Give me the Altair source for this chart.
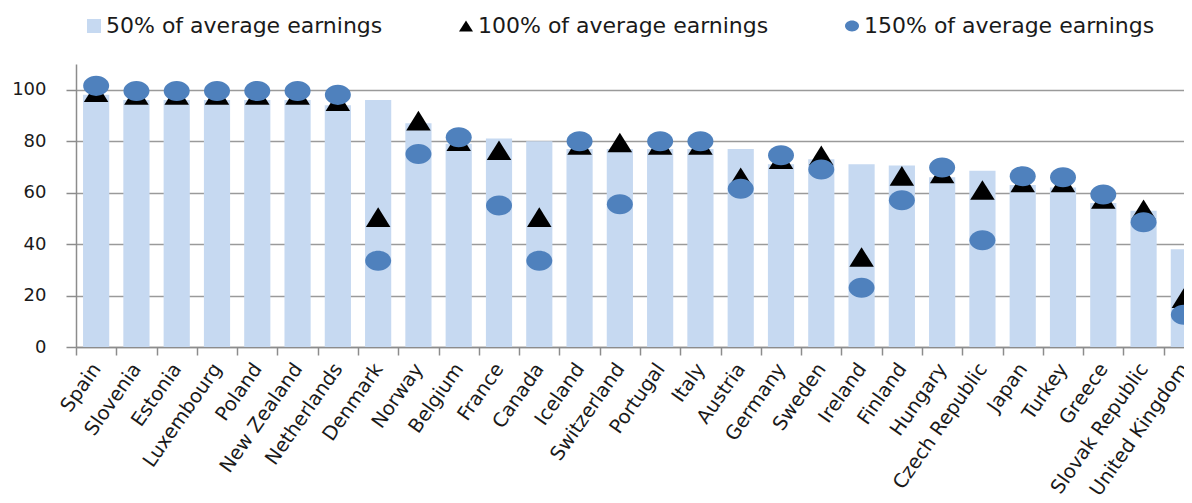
import altair as alt
import pandas as pd

countries = ["Spain", "Slovenia", "Estonia", "Luxembourg", "Poland", "New Zealand",
             "Netherlands", "Denmark", "Norway", "Belgium", "France", "Canada", "Iceland",
             "Switzerland", "Portugal", "Italy", "Austria", "Germany", "Sweden", "Ireland",
             "Finland", "Hungary", "Czech Republic", "Japan", "Turkey", "Greece",
             "Slovak Republic", "United Kingdom"]
p50 = [98, 96, 96, 96, 96, 96, 94, 96, 87, 79, 81, 80, 77, 77, 77, 77, 77, 71, 73, 71,
       70.5, 66, 68.5, 63, 62, 56, 53, 38]
p100 = [99, 98, 98, 98, 98, 98, 95.5, 50.5, 88, 80, 76.5, 50.5, 78.5, 79.5, 78.5, 78.5,
        66, 73, 74.5, 35, 66.5, 67.5, 61, 64, 64, 57.5, 53.5, 19]
p150 = [101.5, 99.5, 99.5, 99.5, 99.5, 99.5, 98, 33.5, 75, 81.5, 55, 33.5, 80, 55.5, 80,
        80, 61.5, 74.5, 69, 23, 57, 69.8, 41.5, 66.4, 66, 59.3, 48.5, 12.5]
series = ["50% of average earnings", "100% of average earnings", "150% of average earnings"]
y_ticks = [0, 20, 40, 60, 80, 100]

rows = []
for s, vals in zip(series, [p50, p100, p150]):
    for c, v in zip(countries, vals):
        rows.append({"country": c, "series": s, "value": v})
df = pd.DataFrame(rows)

FONT = "DejaVu Sans"
TRI = "M0,-0.8L1,0.8L-1,0.8Z"
k = 0.5523
ry = 0.77
ELL = (f"M-1,0C-1,{-k*ry:.4f},{-k:.4f},{-ry},0,{-ry}"
       f"C{k:.4f},{-ry},1,{-k*ry:.4f},1,0"
       f"C1,{k*ry:.4f},{k:.4f},{ry},0,{ry}"
       f"C{-k:.4f},{ry},-1,{k*ry:.4f},-1,0Z")

color_scale = alt.Scale(domain=series, range=["#c6d9f1", "#000000", "#4f81bd"])
shape_scale = alt.Scale(domain=series, range=["square", TRI, ELL])

x_enc = alt.X("country:N", sort=countries, title=None,
              scale=alt.Scale(paddingInner=0, paddingOuter=0),
              axis=alt.Axis(labelAngle=-55, labelAlign="right", labelBaseline="middle",
                            labelFontSize=19.5, labelColor="#1a1a1a", labelPadding=10,
                            tickBand="extent", tickSize=8, tickColor="#8c8c8c",
                            tickWidth=1.5, domainColor="#8c8c8c", domainWidth=1.5,
                            grid=False, labelFont=FONT))
y_enc = alt.Y("value:Q", title=None,
              scale=alt.Scale(domain=[0, 110], nice=False),
              axis=alt.Axis(values=y_ticks, labelFontSize=18, labelColor="#1a1a1a",
                            labelPadding=20, tickSize=10, tickColor="#8c8c8c",
                            tickWidth=1.5, domainColor="#8c8c8c", domainWidth=1.5,
                            gridColor="#9a9a9a", gridWidth=1.5, labelFont=FONT))
color_enc = alt.Color("series:N", scale=color_scale, title=None)
shape_enc = alt.Shape("series:N", scale=shape_scale, title=None)

base = alt.Chart(df)
bars = base.transform_filter(alt.datum.series == series[0]).mark_bar(
    width=alt.RelativeBandSize(0.65)
).encode(x=x_enc, y=y_enc, color=color_enc)

tri = base.transform_filter(alt.datum.series == series[1]).mark_point(
    filled=True, opacity=1, size=600, strokeWidth=0
).encode(x=x_enc, y=y_enc, color=color_enc, shape=shape_enc)

circ = base.transform_filter(alt.datum.series == series[2]).mark_point(
    filled=True, opacity=1, size=676, strokeWidth=0
).encode(x=x_enc, y=y_enc, color=color_enc, shape=shape_enc)

chart = alt.layer(bars, tri, circ).properties(
    width=1128, height=283,
    autosize=alt.AutoSizeParams(type="none"),
    padding={"left": 68, "top": 56, "right": -20, "bottom": 148},
).configure(font=FONT).configure_view(stroke="transparent").configure_legend(
    orient="none", legendX=7, legendY=-49, direction="horizontal",
    labelFontSize=22, labelFont=FONT, labelColor="#1a1a1a", symbolSize=196,
    symbolStrokeWidth=0, symbolOpacity=1, columnPadding=72, labelOffset=1,
    labelLimit=400, title=None
)

chart.save("out.html", embed_options={"renderer": "svg", "actions": False})
